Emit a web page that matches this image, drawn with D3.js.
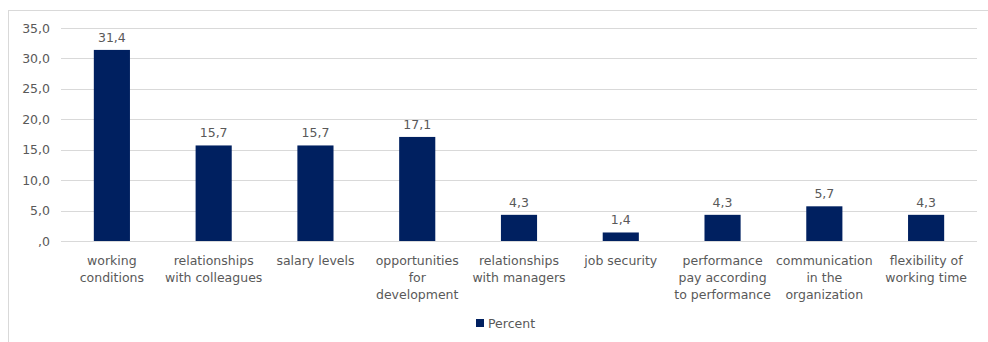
<!DOCTYPE html>
<html>
<head>
<meta charset="utf-8">
<script src="https://cdn.jsdelivr.net/npm/d3@7"></script>
<style>
  html, body { margin: 0; padding: 0; background: #fff; }
  svg text { font-family: "DejaVu Sans", Verdana, sans-serif; fill: #595959; }
</style>
</head>
<body>
<svg id="chart" width="988" height="342"></svg>
<script>
// Reasons given, share of respondents (%)
const categories = [
  ["working", "conditions"],
  ["relationships", "with colleagues"],
  ["salary levels"],
  ["opportunities", "for", "development"],
  ["relationships", "with managers"],
  ["job security"],
  ["performance", "pay according", "to performance"],
  ["communication", "in the", "organization"],
  ["flexibility of", "working time"]
];
const percent = [31.4, 15.7, 15.7, 17.1, 4.3, 1.4, 4.3, 5.7, 4.3];
const yTicks = [0, 5, 10, 15, 20, 25, 30, 35];
const seriesName = "Percent";

const W = 988, H = 342;
const margin = { left: 61, right: 11, top: 28, bottom: 101 };
const svg = d3.select("#chart");

// outer chart frame
svg.append("rect")
  .attr("x", 8.5).attr("y", 10.5)
  .attr("width", W - 8).attr("height", H - 10)
  .attr("fill", "none").attr("stroke", "#d9d9d9");

const fmt = v => d3.format(".1f")(v).replace(/^0\./, ".").replace(".", ",");

const x = d3.scaleBand()
  .domain(d3.range(categories.length))
  .range([margin.left, W - margin.right])
  .paddingInner(0.645).paddingOuter(0.3225);

const y = d3.scaleLinear()
  .domain([0, 35])
  .range([H - margin.bottom, margin.top]);

// gridlines
svg.append("g")
  .selectAll("line")
  .data(yTicks)
  .join("line")
  .attr("x1", margin.left).attr("x2", W - margin.right)
  .attr("y1", d => Math.round(y(d)) + 0.5).attr("y2", d => Math.round(y(d)) + 0.5)
  .attr("stroke", "#d9d9d9").attr("stroke-width", 1);

// y axis labels
const yAxis = d3.axisLeft(y).tickValues(yTicks).tickSize(0).tickPadding(0)
  .tickFormat(fmt);
svg.append("g")
  .attr("transform", `translate(${50},0)`)
  .call(yAxis)
  .call(g => g.select(".domain").remove())
  .call(g => g.selectAll("text").attr("font-size", 12.5).attr("fill", "#595959")
    .style("font-family", "'DejaVu Sans', sans-serif"));

// bars
svg.append("g")
  .selectAll("rect")
  .data(percent)
  .join("rect")
  .attr("x", (d, i) => x(i))
  .attr("width", x.bandwidth())
  .attr("y", d => y(d))
  .attr("height", d => y(0) - y(d))
  .attr("fill", "#002060");

// value labels
svg.append("g")
  .selectAll("text")
  .data(percent)
  .join("text")
  .attr("x", (d, i) => x(i) + x.bandwidth() / 2)
  .attr("y", d => y(d) - 8)
  .attr("text-anchor", "middle")
  .attr("font-size", 12.5)
  .text(fmt);

// category labels
const xLab = svg.append("g")
  .selectAll("text")
  .data(categories)
  .join("text")
  .attr("text-anchor", "middle")
  .attr("font-size", 12.5)
  .attr("x", (d, i) => x(i) + x.bandwidth() / 2)
  .attr("y", 265);
xLab.selectAll("tspan")
  .data(d => d)
  .join("tspan")
  .attr("x", function () { return d3.select(this.parentNode).attr("x"); })
  .attr("dy", (d, i) => i === 0 ? 0 : 17)
  .text(d => d);

// legend
const leg = svg.append("g").attr("transform", "translate(476,319)");
leg.append("rect").attr("width", 8).attr("height", 8).attr("fill", "#002060");
leg.append("text").attr("x", 12).attr("y", 9).attr("font-size", 12.5).text(seriesName);
</script>
</body>
</html>
